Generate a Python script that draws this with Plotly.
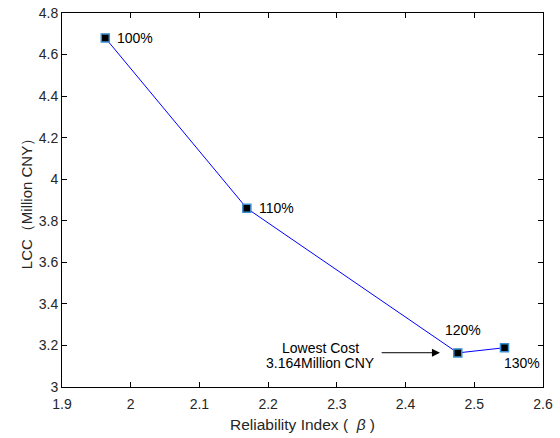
import plotly.graph_objects as go

# Reliability index vs life-cycle cost for each design level
beta = [1.963, 2.169, 2.476, 2.544]
lcc = [4.68, 3.86, 3.164, 3.189]
levels = ["100%", "110%", "120%", "130%"]

x_ticks = [1.9, 2.0, 2.1, 2.2, 2.3, 2.4, 2.5, 2.6]
x_tick_text = ["1.9", "2", "2.1", "2.2", "2.3", "2.4", "2.5", "2.6"]
y_ticks = [3.0, 3.2, 3.4, 3.6, 3.8, 4.0, 4.2, 4.4, 4.6, 4.8]
y_tick_text = ["3", "3.2", "3.4", "3.6", "3.8", "4", "4.2", "4.4", "4.6", "4.8"]

FONT = "Liberation Sans, Arial, sans-serif"
TXT = "#262626"

fig = go.Figure()
fig.add_trace(go.Scatter(
    x=beta, y=lcc, mode="lines+markers",
    line=dict(color="#0000ff", width=1),
    marker=dict(symbol="square", size=8, color="black",
                line=dict(color="#3a8fd0", width=1.5)),
    showlegend=False,
))

# level labels beside each point
label_offsets = [(10, 0, "left", "middle"), (10, 0, "left", "middle"),
                 (5, -23, "center", "middle"), (17, 15, "center", "middle")]
for xv, yv, txt, (dx, dy, xa, ya) in zip(beta, lcc, levels, label_offsets):
    fig.add_annotation(x=xv, y=yv, text=txt, showarrow=False,
                       xshift=dx, yshift=-dy, xanchor=xa, yanchor=ya,
                       font=dict(family=FONT, size=14, color="black"))

# minimum-cost callout
min_i = lcc.index(min(lcc))
fig.add_annotation(x=2.450, y=lcc[min_i] + 0.001, ax=2.363, ay=lcc[min_i] + 0.001,
                   axref="x", ayref="y", xref="x", yref="y",
                   showarrow=True, arrowhead=2, arrowsize=1.6, arrowwidth=1,
                   arrowcolor="black", text="")
callout_lines = ["Lowest Cost", f"{lcc[min_i]:.3f}Million CNY"]
for k, line_txt in enumerate(callout_lines):
    fig.add_annotation(x=2.2755, y=lcc[min_i], showarrow=False, text=line_txt,
                       xanchor="center", yanchor="middle",
                       yshift=4.5 - 15 * k,
                       font=dict(family=FONT, size=14, color="black"))

axis_common = dict(showline=True, linecolor="black", linewidth=1, mirror="ticks",
                   ticks="inside", ticklen=5, tickcolor="black", showgrid=False,
                   zeroline=False, automargin=False,
                   tickfont=dict(family=FONT, size=14, color=TXT))

fig.update_layout(
    width=560, height=438,
    margin=dict(l=62, r=17, t=13, b=51),
    plot_bgcolor="white", paper_bgcolor="white",
    xaxis=dict(range=[1.9, 2.6], tickvals=x_ticks, ticktext=x_tick_text,
               ticklabelstandoff=4,
               title=dict(text="Reliability Index (  <i>β</i> )", standoff=8,
                          font=dict(family=FONT, size=15.5, color=TXT)),
               **axis_common),
    yaxis=dict(range=[3.0, 4.8], tickvals=y_ticks, ticktext=y_tick_text,
               title=dict(text="LCC（Million CNY）", standoff=2,
                          font=dict(family=FONT, size=15, color=TXT)),
               **axis_common),
)

fig.write_html("out.html")
